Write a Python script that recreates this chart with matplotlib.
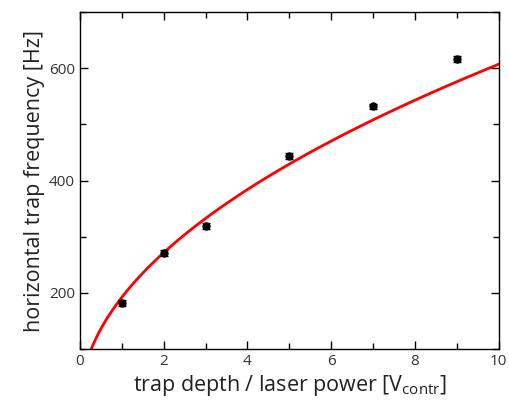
import numpy as np
import matplotlib.pyplot as plt
from matplotlib.ticker import MultipleLocator

# measured trap frequencies
depth = [1, 2, 3, 5, 7, 9]
freq = [182, 271, 319, 444, 532, 616]
freq_err = [5, 5, 5, 5, 5, 5]

# fit: f = a * V^b
fit_a = 192.0
fit_b = 0.5

plt.rcParams['font.family'] = ['Open Sans', 'DejaVu Sans']
plt.rcParams['mathtext.fontset'] = 'custom'
plt.rcParams['mathtext.rm'] = 'Open Sans'

fig = plt.figure(figsize=(5.09, 4.07), dpi=100)
ax = fig.add_axes([0.157, 0.1425, 0.823, 0.828])

xf = np.linspace(0.01, 10, 400)
ax.plot(xf, fit_a * xf ** fit_b, color='#ff0000', lw=2, zorder=2)
ax.errorbar(depth, freq, yerr=freq_err, fmt='o', color='black', ms=5,
            capsize=3, elinewidth=1, capthick=1, zorder=3)

ax.set_xlim(0, 10)
ax.set_ylim(100, 700)
ax.xaxis.set_major_locator(MultipleLocator(2))
ax.xaxis.set_minor_locator(MultipleLocator(1))
ax.yaxis.set_major_locator(MultipleLocator(200))
ax.yaxis.set_minor_locator(MultipleLocator(100))
ax.tick_params(which='both', direction='in', top=True, right=True,
               labelsize=11, labelcolor='#333333', width=1)
ax.tick_params(which='major', length=6)
ax.tick_params(which='minor', length=4)
for s in ax.spines.values():
    s.set_linewidth(1)

ax.set_xlabel(r'trap depth / laser power [V$_{\mathrm{contr}}$]', fontsize=15.5,
              color='#222222', labelpad=3)
ax.set_ylabel('horizontal trap frequency [Hz]', fontsize=15.5, color='#222222',
              labelpad=3)

fig.savefig('out.png', dpi=100)
